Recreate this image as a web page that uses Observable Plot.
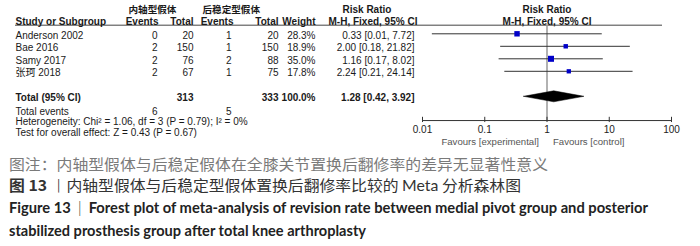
<!DOCTYPE html>
<html><head><meta charset="utf-8">
<script src="https://cdn.jsdelivr.net/npm/d3@7"></script>
<script src="https://cdn.jsdelivr.net/npm/@observablehq/plot@0.6"></script>
<style>
html,body{margin:0;padding:0;background:#fff;}
body{width:700px;height:246px;overflow:hidden;position:relative;}
#chart svg{display:block;}
.cap{position:absolute;left:9px;white-space:nowrap;line-height:20px;height:20px;transform-origin:0 50%;}
.c1{top:154px;color:#7a7a7a;font-family:"Noto Sans CJK SC",sans-serif;font-size:15px;}
.c2{top:175px;color:#333;font-family:"Noto Sans CJK SC",sans-serif;font-size:15px;}
.c3{top:197px;color:#222;font-family:Lato,"Noto Sans CJK SC",sans-serif;font-weight:700;font-size:15.5px;}
.c4{top:220px;color:#222;font-family:Lato,"Noto Sans CJK SC",sans-serif;font-weight:700;font-size:15.5px;}
</style></head><body>
<div id="chart"></div>
<div class="cap c1" data-w="539">图注：内轴型假体与后稳定假体在全膝关节置换后翻修率的差异无显著性意义</div>
<div class="cap c2" data-w="512"><b>图 13</b> <span style="font-weight:300">丨</span>内轴型假体与后稳定型假体置换后翻修率比较的 <span style="font-family:Lato">Meta</span> 分析森林图</div>
<div class="cap c3" data-w="639">Figure 13 &nbsp;<span style="font-weight:300">|</span>&nbsp; Forest plot of meta-analysis of revision rate between medial pivot group and posterior</div>
<div class="cap c4" data-w="357">stabilized prosthesis group after total knee arthroplasty</div>
<script>
// ---- data ----
const studies   = ["Anderson 2002", "Bae 2016", "Samy 2017", "张珂 2018"];
const expEvents = [0, 2, 2, 2];
const expTotal  = [20, 150, 76, 67];
const ctlEvents = [1, 1, 2, 1];
const ctlTotal  = [20, 150, 88, 75];
const weights   = [28.3, 18.9, 35.0, 17.8];
const rr        = [0.33, 2.00, 1.16, 2.24];
const ciLow     = [0.0144, 0.18, 0.17, 0.21];
const ciHigh    = [7.72, 21.82, 8.02, 24.14];
const groupNames = ["内轴型假体", "后稳定型假体"];
const totalExpN = 313, totalCtlN = 333, totalWeight = 100.0;
const totalRR = 1.28, totalLow = 0.42, totalHigh = 3.92;
const totalExpEvents = 6, totalCtlEvents = 5;
const heterogeneityText = "Heterogeneity: Chi² = 1.06, df = 3 (P = 0.79); I² = 0%";
const overallText = "Test for overall effect: Z = 0.43 (P = 0.67)";
const xTicks = [0.01, 0.1, 1, 10, 100];
const favours = ["Favours [experimental]", "Favours [control]"];

// ---- layout (code) ----
const W = 700, H = 150, ML = 422, MR = 29;
const at = px => px - ML;   // dx relative to the left frame edge
const f2 = d3.format(".2f");
const ciText = (e, l, h) => `${f2(e)} [${f2(l)}, ${f2(h)}]`;
const rows = studies.map((s, i) => ({
  row: i, study: s, e1: expEvents[i], n1: expTotal[i], e2: ctlEvents[i], n2: ctlTotal[i],
  w: weights[i], rr: rr[i], lo: ciLow[i], hi: ciHigh[i]
}));
const TOTAL = 5, EVROW = 6.1, HETROW = 6.95, TESTROW = 7.8;
const HDR1 = -1.94, HDR2 = -0.98, HLINE = -0.69, AXIS = 6.94, TICKLAB = 7.68, FAV = 8.66;
const TD = 1.5; // text vertical nudge
const ink = "#1a1a1a";
const font = "Liberation Sans, Arial, 'Noto Sans CJK SC', sans-serif";

const cols = [
  {k: "e1", x: 157}, {k: "n1", x: 193}, {k: "e2", x: 231}, {k: "n2", x: 278},
  {k: "w", x: 315, fmt: d => d3.format(".1f")(d) + "%"}
];

const txt = (data, opts) => Plot.text(data, {frameAnchor: "left", fill: ink, fontSize: 10, dy: TD, ...opts});

const marks = [
  // header
  txt(groupNames, {y: () => HDR1, dx: (d, i) => 0, text: d => d, textAnchor: "start", fontWeight: "bold", fontSize: 9.6, dy: 0}),
  Plot.text(groupNames, {frameAnchor: "left", y: () => HDR1, text: d => d, textAnchor: "start", fontWeight: "bold", fontSize: 9.6,
    dx: (d) => 0}),
  Plot.ruleY([HLINE], {stroke: "#444", strokeWidth: 1, insetLeft: -(ML - 15), insetRight: -(700 - MR - 680)}),
  // vertical line of no effect
  Plot.ruleX([1], {y1: HLINE, y2: AXIS, stroke: "#999", strokeWidth: 1.5}),
  // CI lines
  Plot.ruleY(rows, {y: "row", x1: "lo", x2: "hi", stroke: "#333", strokeWidth: 1}),
  // squares
  Plot.dot(rows, {x: "rr", y: "row", r: "w", symbol: "square", fill: "#0000c8", stroke: null}),
  // diamond
  Plot.line([
    {x: totalLow, y: TOTAL}, {x: totalRR, y: TOTAL - 0.44}, {x: totalHigh, y: TOTAL},
    {x: totalRR, y: TOTAL + 0.44}, {x: totalLow, y: TOTAL}
  ], {x: "x", y: "y", fill: "#000", stroke: "#000", strokeWidth: 0.5}),
  // axis
  Plot.ruleY([AXIS], {x1: xTicks[0], x2: xTicks[xTicks.length - 1], stroke: "#333"}),
  Plot.ruleX(xTicks, {x: d => d, y1: AXIS - 0.26, y2: AXIS + 0.16, stroke: "#333"}),
  Plot.text(xTicks, {x: d => d, y: () => TICKLAB, text: d => String(d), fill: "#222", fontSize: 10}),
  Plot.text([favours[0]], {x: () => 1, y: () => FAV, text: d => d, textAnchor: "end", dx: -8, fill: "#555", fontSize: 9.6}),
  Plot.text([favours[1]], {x: () => 1, y: () => FAV, text: d => d, textAnchor: "start", dx: 6, fill: "#555", fontSize: 9.6}),
];
// fix group names placement (replace generic ones above)
marks.splice(0, 2,
  Plot.text([groupNames[0]], {frameAnchor: "left", y: () => HDR1, text: d => d, textAnchor: "start", dx: at(128), fontWeight: "bold", fontSize: 9.6, fill: ink, fontFamily: "'Noto Sans CJK SC'"}),
  Plot.text([groupNames[1]], {frameAnchor: "left", y: () => HDR1, text: d => d, textAnchor: "start", dx: at(202), fontWeight: "bold", fontSize: 9.6, fill: ink, fontFamily: "'Noto Sans CJK SC'"})
);

// header row texts
const hdr2 = [
  {t: "Study or Subgroup", x: 15, a: "start"}, {t: "Events", x: 158, a: "end"}, {t: "Total", x: 193, a: "end"},
  {t: "Events", x: 233, a: "end"}, {t: "Total", x: 278, a: "end"}, {t: "Weight", x: 315, a: "end"},
  {t: "M-H, Fixed, 95% CI", x: 328, a: "start"}
];
hdr2.forEach(h => marks.push(txt([h.t], {y: () => HDR2, text: d => d, textAnchor: h.a, dx: at(h.x), fontWeight: "bold", dy: 0})));
marks.push(txt(["Risk Ratio"], {y: () => HDR1, text: d => d, textAnchor: "start", dx: at(342), fontWeight: "bold", dy: 0}));
marks.push(Plot.text(["Risk Ratio"], {x: () => 1, y: () => HDR1, text: d => d, fontWeight: "bold", fontSize: 10, fill: ink}));
marks.push(Plot.text(["M-H, Fixed, 95% CI"], {x: () => 1, y: () => HDR2, text: d => d, fontWeight: "bold", fontSize: 10, fill: ink}));

// study rows
marks.push(txt(rows, {y: "row", text: "study", textAnchor: "start", dx: at(15)}));
cols.forEach(c => marks.push(txt(rows, {y: "row", text: d => c.fmt ? c.fmt(d[c.k]) : String(d[c.k]), textAnchor: "end", dx: at(c.x)})));
marks.push(txt(rows, {y: "row", text: d => ciText(d.rr, d.lo, d.hi), textAnchor: "end", dx: at(414)}));

// total row
const tot = [{t: "Total (95% CI)", x: 15, a: "start"}, {t: String(totalExpN), x: 193, a: "end"},
  {t: String(totalCtlN), x: 278, a: "end"}, {t: d3.format(".1f")(totalWeight) + "%", x: 315, a: "end"},
  {t: ciText(totalRR, totalLow, totalHigh), x: 414, a: "end"}];
tot.forEach(h => marks.push(txt([h.t], {y: () => TOTAL, text: d => d, textAnchor: h.a, dx: at(h.x), fontWeight: "bold"})));
// total events
[{t: "Total events", x: 15, a: "start"}, {t: String(totalExpEvents), x: 157, a: "end"}, {t: String(totalCtlEvents), x: 231, a: "end"}]
  .forEach(h => marks.push(txt([h.t], {y: () => EVROW, text: d => d, textAnchor: h.a, dx: at(h.x)})));
marks.push(txt([heterogeneityText], {y: () => HETROW, text: d => d, textAnchor: "start", dx: at(15)}));
marks.push(txt([overallText], {y: () => TESTROW, text: d => d, textAnchor: "start", dx: at(15)}));

const chart = Plot.plot({
  width: W, height: H,
  marginLeft: ML, marginRight: MR, marginTop: 0, marginBottom: 0,
  style: {fontFamily: font, fontSize: "10px", background: "#fff", overflow: "visible"},
  x: {type: "log", domain: [0.01, 100], axis: null},
  y: {type: "linear", domain: [-2.664, 9.336], range: [0, H], axis: null},
  r: {type: "sqrt", domain: [0, 35], range: [0, 3.4]},
  marks
});
document.getElementById("chart").appendChild(chart);

// fit caption lines to measured widths
document.querySelectorAll(".cap").forEach(el => {
  const target = +el.dataset.w;
  el.style.display = "inline-block";
  const w = el.getBoundingClientRect().width;
  if (w > 0) el.style.transform = `scaleX(${target / w})`;
});
</script>
</body></html>
